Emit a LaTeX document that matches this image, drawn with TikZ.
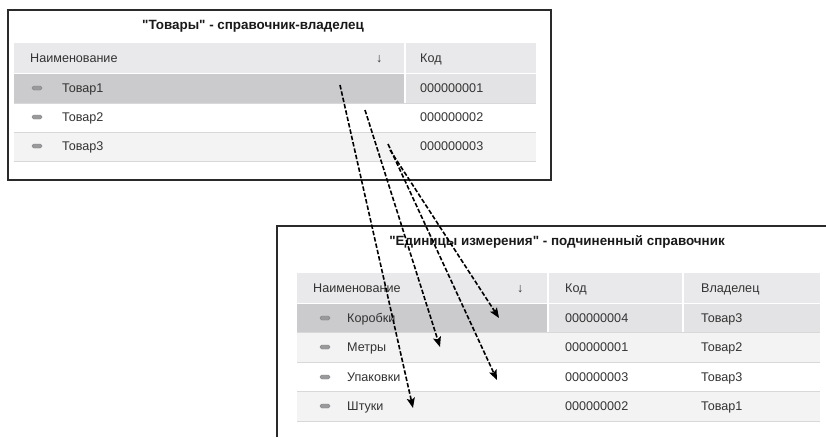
\documentclass[tikz,border=0pt]{standalone}
\usepackage{fontspec}
\setmainfont{Liberation Sans}[Ligatures=TeXOff]
\usetikzlibrary{arrows.meta}
\definecolor{hdr}{HTML}{E9E9EB}
\definecolor{selA}{HTML}{CBCBCD}
\definecolor{selB}{HTML}{E3E3E5}
\definecolor{alt}{HTML}{F3F3F3}
\definecolor{sep}{HTML}{D8D8D8}
\definecolor{txt}{HTML}{333333}
\definecolor{frm}{HTML}{2A2A2A}
\definecolor{ico}{HTML}{9A9A9C}
\tikzset{
  frame/.style={draw=frm,line width=2pt},
  cell/.style={font=\fontsize{12.6}{14}\selectfont,text=txt,anchor=base west,inner sep=0pt},
  ttl/.style={font=\bfseries\fontsize{13.4}{15}\selectfont,text=black!90,inner sep=0pt,anchor=base},
  sepline/.style={draw=sep,line width=1pt},
  coldiv/.style={draw=white,line width=1.5pt},
  icon/.style={draw=ico!80!black,fill=ico,rounded corners=1.6pt,line width=0.3pt,minimum width=10pt,minimum height=4pt,inner sep=0pt},
  link/.style={draw=black,line width=1.6pt,dash pattern=on 4.5pt off 2pt,-{Stealth[length=10pt,width=8pt,inset=2pt]}}
}
\begin{document}
\begin{tikzpicture}[x=1pt,y=-1pt]
\useasboundingbox (0,0) rectangle (826,437);
\fill[white] (0,0) rectangle (826,437);
% ---------- top table ----------
\draw[frame] (8,10) rectangle (551,180);
\node[ttl] (t1) at (253,29) {"Товары" - справочник-владелец};
\fill[hdr] (14,43) rectangle (536,73);
\fill[selA] (14,74) rectangle (405,103);
\fill[selB] (405,74) rectangle (536,103);
\fill[alt] (14,132) rectangle (536,161);
\draw[coldiv] (405,43) -- (405,103);
\draw[sepline] (14,103) -- (536,103);
\draw[sepline] (14,132) -- (536,132);
\draw[sepline] (14,161) -- (536,161);
\node[cell] (h1) at (30,62.5) {Наименование};
\node[cell] (h1s) at (376,62) {↓};
\node[cell] (h1k) at (420,62.5) {Код};
\node[icon] (i1) at (37,88) {};
\node[icon] (i2) at (37,117) {};
\node[icon] (i3) at (37,146) {};
\node[cell] (p1) at (62,92.5) {Товар1};
\node[cell] (p2) at (62,121.5) {Товар2};
\node[cell] (p3) at (62,150.5) {Товар3};
\node[cell] (k1) at (420,92.5) {000000001};
\node[cell] (k2) at (420,121.5) {000000002};
\node[cell] (k3) at (420,150.5) {000000003};
% ---------- bottom table ----------
\draw[frame] (277,437) -- (277,226) -- (826,226);
\fill[hdr] (297,273) rectangle (820,303);
\fill[selA] (297,304) rectangle (548,332);
\fill[selB] (548,304) rectangle (820,332);
\fill[alt] (297,332) rectangle (820,362);
\fill[alt] (297,391) rectangle (820,421);
\draw[coldiv] (548,273) -- (548,332);
\draw[coldiv] (683,273) -- (683,332);
\draw[sepline] (297,332) -- (820,332);
\draw[sepline] (297,362) -- (820,362);
\draw[sepline] (297,391) -- (820,391);
\draw[sepline] (297,421) -- (820,421);
\node[cell] (h2) at (313,292.5) {Наименование};
\node[cell] (h2s) at (517,292) {↓};
\node[cell] (h2k) at (565,292.5) {Код};
\node[cell] (h2o) at (701,292.5) {Владелец};
\node[icon] (j1) at (325,318) {};
\node[icon] (j2) at (325,347) {};
\node[icon] (j3) at (325,377) {};
\node[icon] (j4) at (325,406) {};
\node[cell] (u1) at (347,322.5) {Коробки};
\node[cell] (u2) at (347,351.5) {Метры};
\node[cell] (u3) at (347,381.5) {Упаковки};
\node[cell] (u4) at (347,410.5) {Штуки};
\node[cell] (c1) at (565,322.5) {000000004};
\node[cell] (c2) at (565,351.5) {000000001};
\node[cell] (c3) at (565,381.5) {000000003};
\node[cell] (c4) at (565,410.5) {000000002};
\node[cell] (o1) at (701,322.5) {Товар3};
\node[cell] (o2) at (701,351.5) {Товар2};
\node[cell] (o3) at (701,381.5) {Товар3};
\node[cell] (o4) at (701,410.5) {Товар1};
\node[ttl] (t2) at (557,245) {"Единицы измерения" - подчиненный справочник};
% ---------- links ----------
\coordinate (s1) at (340,85);
\coordinate (s2) at (365,110);
\coordinate (s3) at (388,144);
\coordinate (s4) at (390,150);
\coordinate (e1) at (413,408);
\coordinate (e2) at (440,347);
\coordinate (e3) at (497,380);
\coordinate (e4) at (499,318);
\draw[link] (s1) -- (e1);
\draw[link] (s2) -- (e2);
\draw[link] (s3) -- (e3);
\draw[link] (s4) -- (e4);
\end{tikzpicture}
\end{document}
